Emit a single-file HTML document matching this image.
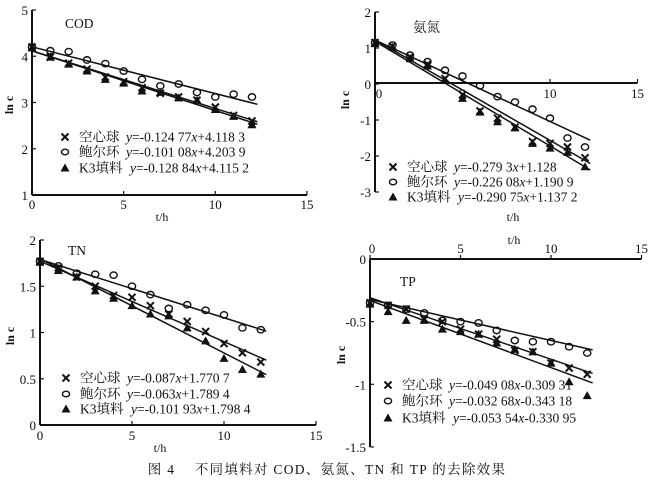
<!DOCTYPE html>
<html><head><meta charset="utf-8"><style>
html,body{margin:0;padding:0;background:#fff;}
svg{display:block;}
text{font-family:"Liberation Serif","Noto Serif CJK SC",serif;fill:#111;}
</style></head><body>
<svg id="s" width="658" height="486" xmlns="http://www.w3.org/2000/svg">
<text x="327" y="474" font-size="13.5" text-anchor="middle" letter-spacing="1.3">图 4　 不同填料对 COD、氨氮、TN 和 TP 的去除效果</text>
</svg>
<script>
var S=document.getElementById('s'),NS='http://www.w3.org/2000/svg';
function el(t,a,txt){var e=document.createElementNS(NS,t);for(var k in a)e.setAttribute(k,a[k]);if(txt!==undefined)e.textContent=txt;S.appendChild(e);return e;}
function panel(P){
 var X=function(v){return P.x0+v*P.sx;},Y=function(v){return P.y0-v*P.sy;};
 el('line',{x1:P.x0,y1:Y(P.ymax),x2:P.x0,y2:Y(P.ymin),stroke:'#111','stroke-width':2});
 el('line',{x1:P.x0,y1:P.xaxisY,x2:X(15),y2:P.xaxisY,stroke:'#111','stroke-width':2});
 P.yt.forEach(function(v){el('line',{x1:P.x0,y1:Y(v),x2:P.x0+4,y2:Y(v),stroke:'#111','stroke-width':1.2});
  el('text',{x:P.x0-4,y:Y(v)+5,'font-size':13,'text-anchor':'end'},String(v));});
 [0,5,10,15].forEach(function(v){el('line',{x1:X(v),y1:P.xaxisY,x2:X(v),y2:P.xaxisY-4,stroke:'#111','stroke-width':1.2});
  el('text',{x:X(v)+(v==0?P.zoff||0:0),y:P.xly,'font-size':13,'text-anchor':'middle'},String(v));});
 el('text',{x:P.tx,y:P.ty,'font-size':12,'text-anchor':'middle'},'t/h');
 el('text',{x:P.lnx,y:P.lny,'font-size':12,'font-weight':'bold','text-anchor':'middle',transform:'rotate(-90 '+P.lnx+' '+P.lny+')'},'ln c');
 el('text',{x:P.nx,y:P.ny,'font-size':13.5},P.name);
 P.fits.forEach(function(f){el('line',{x1:X(0),y1:Y(f[1]),x2:X(12.3),y2:Y(f[1]+f[0]*12.3),stroke:'#111','stroke-width':1.5});});
 for(var i=0;i<=12;i++){
  var x=X(i);
  var yo=Y(P.o[i]);el('ellipse',{cx:x,cy:yo,rx:3.6,ry:3.2,fill:'none',stroke:'#111','stroke-width':1.4});
  var yx=Y(P.c[i]);el('path',{d:'M'+(x-3.5)+' '+(yx-3.5)+'L'+(x+3.5)+' '+(yx+3.5)+'M'+(x+3.5)+' '+(yx-3.5)+'L'+(x-3.5)+' '+(yx+3.5),stroke:'#111','stroke-width':2});
  var yt=Y(P.t[i]);el('path',{d:'M'+x+' '+(yt-4.5)+'L'+(x+4.5)+' '+(yt+3.5)+'L'+(x-4.5)+' '+(yt+3.5)+'Z',fill:'#111'});
 }
 var L=P.leg,mx=P.lx;
 var r=L.r;
 function lt(y,name,eq){el('text',{x:mx+14,y:y+4.5,'font-size':13.5},name);
  var t=el('text',{x:mx+14+P.eqo[name==='K3填料'?1:0],y:y+4.5,'font-size':13.5});
  eq.forEach(function(p){var s=document.createElementNS(NS,'tspan');if(p[1])s.setAttribute('font-style','italic');s.textContent=p[0];t.appendChild(s);});}
 var y=r[0];el('path',{d:'M'+(mx-3.5)+' '+(y-3.5)+'L'+(mx+3.5)+' '+(y+3.5)+'M'+(mx+3.5)+' '+(y-3.5)+'L'+(mx-3.5)+' '+(y+3.5),stroke:'#111','stroke-width':2});
 lt(y,'空心球',L.e[0]);
 y=r[1];el('ellipse',{cx:mx,cy:y,rx:3.6,ry:2.8,fill:'none',stroke:'#111','stroke-width':1.4});lt(y,'鲍尔环',L.e[1]);
 y=r[2];el('path',{d:'M'+mx+' '+(y-4.5)+'L'+(mx+4.5)+' '+(y+3.5)+'L'+(mx-4.5)+' '+(y+3.5)+'Z',fill:'#111'});lt(y,'K3填料',L.e[2]);
}
function eq(a,b){return [['y',1],['=-'+a],['x',1],[b]];}
var eqo=[47,51];
panel({x0:32,sx:18.33,y0:195+46.25,sy:46.25,ymax:5,ymin:1,xaxisY:195,yt:[1,2,3,4,5],xly:209,tx:162,ty:221,lnx:13,lny:105,nx:65,ny:28,name:'COD',
 fits:[[-0.12477,4.1183],[-0.10108,4.2039],[-0.12884,4.1152]],
 o:[4.2,4.12,4.1,3.92,3.84,3.68,3.5,3.36,3.4,3.22,3.12,3.18,3.12],
 c:[4.2,3.98,3.85,3.72,3.55,3.45,3.32,3.2,3.12,3.05,2.9,2.72,2.6],
 t:[4.18,3.98,3.83,3.68,3.5,3.42,3.25,3.22,3.1,3.05,2.85,2.7,2.52],
 lx:65,eqo:eqo,leg:{r:[137,152,168],e:[eq('0.124 77','+4.118 3'),eq('0.101 08','+4.203 9'),eq('0.128 84','+4.115 2')]}});
panel({x0:375,sx:17.5,y0:84,sy:36,ymax:2,ymin:-3,xaxisY:83,yt:[-3,-2,-1,0,1,2],xly:98,zoff:4,tx:513,ty:221,lnx:349,lny:100,nx:413,ny:32,name:'氨氮',
 fits:[[-0.2793,1.128+0.1],[-0.22608,1.1909+0.03],[-0.29075,1.1372+0.05]],
 o:[1.15,1.08,0.8,0.62,0.38,0.22,-0.05,-0.35,-0.5,-0.7,-0.95,-1.5,-1.75],
 c:[1.15,1.05,0.75,0.55,0.15,-0.3,-0.75,-0.95,-1.2,-1.6,-1.65,-1.75,-2.05],
 t:[1.12,1.02,0.7,0.5,0.1,-0.4,-0.78,-1.05,-1.22,-1.65,-1.78,-1.9,-2.3],
 lx:393,eqo:eqo,leg:{r:[167,182,197],e:[eq('0.279 3','+1.128'),eq('0.226 08','+1.190 9'),eq('0.290 75','+1.137 2')]}});
panel({x0:40,sx:18.4,y0:425,sy:92.5,ymax:2,ymin:0,xaxisY:425,yt:[0,0.5,1,1.5,2],xly:440,tx:160,ty:452,lnx:14,lny:336,nx:68,ny:255,name:'TN',
 fits:[[-0.087,1.7707],[-0.063,1.7894],[-0.10193,1.7984]],
 o:[1.77,1.72,1.64,1.63,1.62,1.5,1.41,1.26,1.3,1.24,1.19,1.05,1.03],
 c:[1.77,1.7,1.6,1.5,1.4,1.38,1.29,1.2,1.12,1.01,0.88,0.78,0.68],
 t:[1.76,1.67,1.6,1.45,1.37,1.29,1.2,1.18,1.05,0.91,0.72,0.6,0.55],
 lx:66,eqo:eqo,leg:{r:[378,394,409],e:[eq('0.087','+1.770 7'),eq('0.063','+1.789 4'),eq('0.101 93','+1.798 4')]}});
panel({x0:370,sx:18.1,y0:259,sy:125.3,ymax:0,ymin:-1.5,xaxisY:259,yt:[0,-0.5,-1,-1.5],xly:253,zoff:2,tx:514,ty:244,lnx:345,lny:355,nx:400,ny:286,name:'TP',
 fits:[[-0.04908,-0.30931],[-0.03268,-0.34318+0.02],[-0.05354,-0.33095]],
 o:[-0.35,-0.37,-0.4,-0.43,-0.49,-0.5,-0.51,-0.57,-0.65,-0.66,-0.66,-0.7,-0.75],
 c:[-0.35,-0.37,-0.4,-0.48,-0.5,-0.56,-0.6,-0.64,-0.73,-0.74,-0.83,-0.87,-0.92],
 t:[-0.36,-0.42,-0.49,-0.49,-0.56,-0.58,-0.6,-0.67,-0.72,-0.74,-0.83,-0.98,-1.09],
 lx:388,eqo:eqo,leg:{r:[385,401,418],e:[[['y',1],['=-0.049 08'],['x',1],['-0.309 31']],[['y',1],['=-0.032 68'],['x',1],['-0.343 18']],[['y',1],['=-0.053 54'],['x',1],['-0.330 95']]]}});
</script>
</body></html>
